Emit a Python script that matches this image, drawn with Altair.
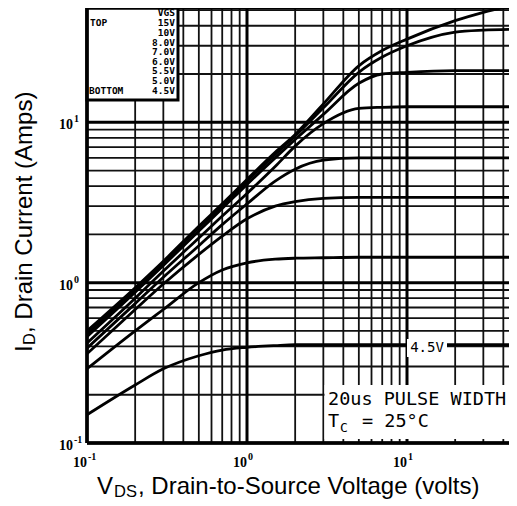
import altair as alt
import pandas as pd

# ---------------- data ----------------
vds = [0.1, 0.2, 0.3, 0.5, 0.7, 1.0, 1.5, 2.0, 3.0, 5.0, 7.0, 10.0, 20.0, 30.0, 43.4]
vgs_labels = ["15V", "10V", "8.0V", "7.0V", "6.0V", "5.5V", "5.0V", "4.5V"]
id_15v = [0.50, 0.93, 1.36, 2.25, 3.10, 4.40, 6.50, 8.40, 13.0, 22.5, 28.0, 33.0, 43.0, 48.5, 53.0]
id_10v = [0.48, 0.90, 1.32, 2.20, 3.00, 4.30, 6.30, 8.20, 12.3, 20.5, 25.5, 30.0, 36.5, 37.6, 38.0]
id_8v = [0.46, 0.87, 1.28, 2.10, 2.90, 4.10, 6.00, 7.80, 11.2, 17.5, 20.0, 20.5, 21.0, 21.0, 21.0]
id_7v = [0.42, 0.80, 1.18, 1.90, 2.60, 3.60, 5.30, 7.10, 9.80, 12.2, 12.4, 12.5, 12.5, 12.5, 12.5]
id_6v = [0.39, 0.74, 1.08, 1.70, 2.30, 3.10, 4.30, 5.10, 5.80, 6.00, 6.00, 6.00, 6.00, 6.00, 6.00]
id_55v = [0.36, 0.68, 0.98, 1.50, 1.95, 2.50, 3.00, 3.20, 3.35, 3.40, 3.40, 3.40, 3.40, 3.40, 3.40]
id_5v = [0.29, 0.50, 0.68, 1.00, 1.20, 1.33, 1.40, 1.42, 1.43, 1.44, 1.44, 1.44, 1.44, 1.44, 1.44]
id_45v = [0.15, 0.23, 0.29, 0.35, 0.38, 0.395, 0.405, 0.41, 0.41, 0.41, 0.41, 0.41, 0.41, 0.41, 0.41]
series = [id_15v, id_10v, id_8v, id_7v, id_6v, id_55v, id_5v, id_45v]

x_minor = [0.2, 0.3, 0.4, 0.5, 0.6, 0.7, 0.8, 0.9, 2, 3, 4, 5, 6, 7, 8, 9, 20, 30, 40]
x_major = [0.1, 1, 10]
y_minor = [0.2, 0.3, 0.4, 0.5, 0.6, 0.7, 0.8, 0.9, 2, 3, 4, 5, 6, 7, 8, 9, 20, 30, 40, 50]
y_major = [0.1, 1, 10]
tick_values = [0.1, 1, 10]
tick_base = ["10", "10", "10"]
tick_exp = ["-1", "0", "1"]

x_domain = [0.1, 43.4]
y_domain = [0.1, 51.6]

# ---------------- build ----------------
rows = []
for lab, ys in zip(vgs_labels, series):
    for v, i in zip(vds, ys):
        rows.append({"vgs": lab, "vds": v, "id": i})
curves = pd.DataFrame(rows)
ticks = pd.DataFrame({"v": tick_values, "base": tick_base, "exp": tick_exp})

xs = alt.Scale(type="log", domain=x_domain, nice=False)
ysc = alt.Scale(type="log", domain=y_domain, nice=False)

W, H = 422, 435

vgrid_minor = alt.Chart(pd.DataFrame({"v": x_minor})).mark_rule(color="#111", strokeWidth=1.8).encode(
    x=alt.X("v:Q", scale=xs, axis=None))
vgrid_major = alt.Chart(pd.DataFrame({"v": x_major})).mark_rule(color="#000", strokeWidth=3).encode(
    x=alt.X("v:Q", scale=xs, axis=None))
hgrid_minor = alt.Chart(pd.DataFrame({"v": y_minor})).mark_rule(color="#111", strokeWidth=1.8).encode(
    y=alt.Y("v:Q", scale=ysc, axis=None))
hgrid_major = alt.Chart(pd.DataFrame({"v": y_major})).mark_rule(color="#000", strokeWidth=3).encode(
    y=alt.Y("v:Q", scale=ysc, axis=None))

lines = alt.Chart(curves).mark_line(color="black", strokeWidth=2.8, interpolate="monotone", clip=True).encode(
    x=alt.X("vds:Q", scale=xs, axis=None),
    y=alt.Y("id:Q", scale=ysc, axis=None),
    detail="vgs:N",
)

# tick labels 10^n drawn through the scales
lf = "Liberation Serif"
xt_base = alt.Chart(ticks).mark_text(font=lf, fontSize=14, fontWeight="bold", align="right", baseline="middle",
                                     color="black").encode(
    x=alt.X("v:Q", scale=xs, axis=None), y=alt.value(455), text="base:N")
xt_exp = alt.Chart(ticks).mark_text(font=lf, fontSize=10, fontWeight="bold", align="left", baseline="middle",
                                    dx=1, color="black").encode(
    x=alt.X("v:Q", scale=xs, axis=None), y=alt.value(449), text="exp:N")
yt_base = alt.Chart(ticks).mark_text(font=lf, fontSize=14, fontWeight="bold", align="right", baseline="middle",
                                     dy=3, color="black").encode(
    y=alt.Y("v:Q", scale=ysc, axis=None), x=alt.value(-14), text="base:N")
yt_exp = alt.Chart(ticks).mark_text(font=lf, fontSize=10, fontWeight="bold", align="left", baseline="middle",
                                    dy=-3, color="black").encode(
    y=alt.Y("v:Q", scale=ysc, axis=None), x=alt.value(-13), text="exp:N")

one = pd.DataFrame({"k": [0]})


def txt(s, x, y, size, font="DejaVu Sans Mono", align="left", baseline="alphabetic", angle=0, weight="normal"):
    return alt.Chart(one).mark_text(font=font, fontSize=size, align=align, baseline=baseline, angle=angle,
                                    fontWeight=weight, color="black").encode(
        x=alt.value(x), y=alt.value(y), text=alt.value(s))


# frame
frame_left = alt.Chart(one).mark_rule(color="black", strokeWidth=3.5).encode(
    x=alt.value(0), y=alt.value(0), y2=alt.value(H))
frame_bottom = alt.Chart(one).mark_rule(color="black", strokeWidth=3.5).encode(
    x=alt.value(0), x2=alt.value(W), y=alt.value(H))
frame_top = alt.Chart(one).mark_rule(color="black", strokeWidth=3).encode(
    x=alt.value(0), x2=alt.value(W), y=alt.value(0))

# legend box
legend_box = alt.Chart(one).mark_rect(fill="white", stroke="black", strokeWidth=3).encode(
    x=alt.value(0), x2=alt.value(91), y=alt.value(0), y2=alt.value(92))
legend_layers = [legend_box,
                 txt("VGS", 88, 5.3, 9.5, align="right", baseline="middle", weight="bold"),
                 txt("TOP", 3, 15.3, 9.5, baseline="middle", weight="bold"),
                 txt("BOTTOM", 2, 82.5, 9.5, baseline="middle", weight="bold")]
for k, lab in enumerate(vgs_labels):
    legend_layers.append(txt(lab, 88, 15.3 + 9.6 * k, 9.5, align="right", baseline="middle", weight="bold"))

# 4.5V inline label
lab_box = alt.Chart(one).mark_rect(fill="white").encode(
    x=alt.value(320), x2=alt.value(360), y=alt.value(331), y2=alt.value(349))
lab_txt = txt("4.5V", 340, 340, 14, align="center", baseline="middle")

# pulse-width box
pw_box = alt.Chart(one).mark_rect(fill="white").encode(
    x=alt.value(237.5), x2=alt.value(W), y=alt.value(377), y2=alt.value(431))
pw_layers = [pw_box,
             txt("20us PULSE WIDTH", 241, 397, 18.5),
             txt("T", 241, 419, 18.5),
             txt("C", 253, 424, 13),
             txt("= 25°C", 275, 419, 18.5)]

# axis titles
tf = "Liberation Sans"
title_layers = [
    txt("V", 10, 486, 24, font=tf),
    txt("DS", 27, 489, 16.5, font=tf),
    txt(", Drain-to-Source Voltage (volts)", 51, 486, 24, font=tf),
    txt("I", -55, 344, 24, font=tf, angle=270),
    txt("D", -52, 337, 16.5, font=tf, angle=270),
    txt(", Drain Current (Amps)", -55, 325, 24, font=tf, angle=270),
]

chart = alt.layer(
    vgrid_minor, hgrid_minor, vgrid_major, hgrid_major, lines,
    *legend_layers, lab_box, lab_txt, *pw_layers,
    frame_left, frame_bottom, frame_top,
    xt_base, xt_exp, yt_base, yt_exp,
    *title_layers,
).properties(
    width=W, height=H,
    autosize=alt.AutoSizeParams(type="none"),
    padding={"left": 79, "top": 0, "right": 0, "bottom": 59},
    background="white",
).configure_view(stroke=None)

chart.save("out.html", embed_options={"renderer": "svg", "actions": False})
